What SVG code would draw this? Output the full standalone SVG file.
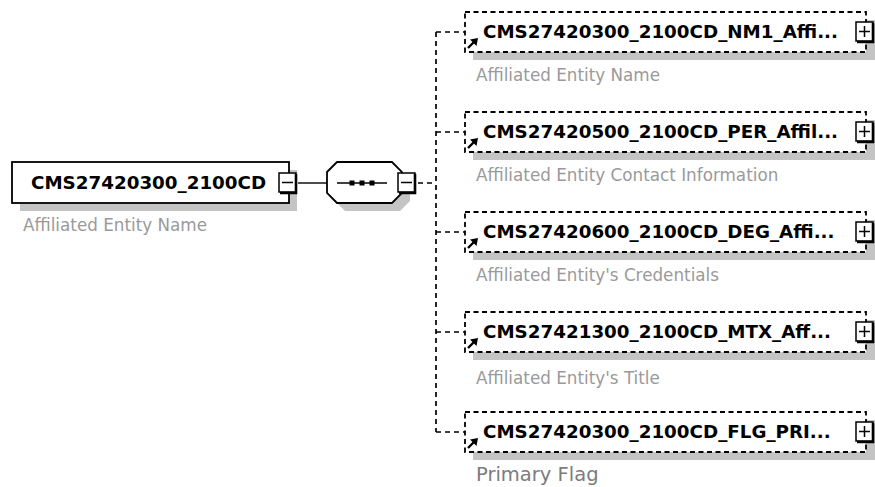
<svg xmlns="http://www.w3.org/2000/svg" width="875" height="487" viewBox="0 0 875 487">
<defs>
<style>
.shadow{fill:#c4c4c4}
.box{fill:#fff;stroke:#000;stroke-width:1.8}
.dbox{fill:#fff;stroke:#000;stroke-width:1.8;stroke-dasharray:5,3.5}
.title{font-family:"DejaVu Sans",Verdana,sans-serif;font-weight:bold;font-size:18.3px;fill:#000}
.lbl{font-family:"DejaVu Sans",Verdana,sans-serif;font-size:16.8px;fill:#9a9a9a}
.lbl2{font-family:"DejaVu Sans",Verdana,sans-serif;font-size:19.5px;fill:#7c7c7c}
.btn{fill:#fff;stroke:#000;stroke-width:1.5}
.btnsh{fill:none;stroke:#000;stroke-width:2.6}
.sign{stroke:#000;stroke-width:1.5;fill:none}
.conn{stroke:#000;stroke-width:1.4;fill:none}
.dconn{stroke:#000;stroke-width:1.7;fill:none;stroke-dasharray:5,4}
.arr{stroke:#000;stroke-width:2.4;fill:none}
</style>
<g id="plusbtn">
<rect class="btn" x="-9" y="-10" width="17" height="19"/>
<path class="btnsh" d="M8,-9 V10 H-8"/>
<path class="sign" d="M-6,-0.5 H5 M-0.5,-6 V5"/>
</g>
<g id="minusbtn">
<rect class="btn" x="-9" y="-10" width="17" height="19"/>
<path class="btnsh" d="M8,-9 V10 H-8"/>
<path class="sign" d="M-6,-0.5 H5"/>
</g>
<g id="refarrow">
<path class="arr" d="M0,9 L6,3"/>
<path d="M10,-1 L2,0.5 L8.5,7 Z" fill="#000"/>
</g>
</defs>

<g id="connectors">
<path class="conn" d="M298,183 H327"/>
<path class="dconn" d="M418,183 H436"/>
<path class="dconn" d="M436,32 V432"/>
<path class="dconn" d="M436,32 H465"/>
<path class="dconn" d="M436,132 H465"/>
<path class="dconn" d="M436,232 H465"/>
<path class="dconn" d="M436,332 H465"/>
<path class="dconn" d="M436,432 H465"/>
</g>

<g id="root">
<rect class="shadow" x="20" y="170" width="277" height="41"/>
<rect class="box" x="12" y="162" width="277" height="41"/>
<text class="title" x="31" y="189">CMS27420300_2100CD</text>
<use href="#minusbtn" x="288" y="183"/>
<text class="lbl" x="23" y="231">Affiliated Entity Name</text>
</g>

<g id="sequence">
<polygon class="shadow" points="335,180 345,170 400,170 410,180 410,201 400,211 345,211 335,201"/>
<polygon class="box" points="327,172 337,162 392,162 402,172 402,193 392,203 337,203 327,193"/>
<path class="conn" d="M337,183 H387"/>
<rect x="349.5" y="180.5" width="5" height="5" fill="#000"/>
<rect x="359.5" y="180.5" width="5" height="5" fill="#000"/>
<rect x="369.5" y="180.5" width="5" height="5" fill="#000"/>
<use href="#minusbtn" x="407" y="183"/>
</g>

<g id="child1">
<rect class="shadow" x="473" y="20" width="402" height="40"/>
<rect class="dbox" x="465" y="12" width="401" height="40"/>
<text class="title" x="483" y="38">CMS27420300_2100CD_NM1_Affi...</text>
<use href="#refarrow" x="468" y="39"/>
<use href="#plusbtn" x="865" y="32"/>
<text class="lbl" x="476" y="81">Affiliated Entity Name</text>
</g>

<g id="child2">
<rect class="shadow" x="473" y="120" width="402" height="40"/>
<rect class="dbox" x="465" y="112" width="401" height="40"/>
<text class="title" x="483" y="138">CMS27420500_2100CD_PER_Affil...</text>
<use href="#refarrow" x="468" y="139"/>
<use href="#plusbtn" x="865" y="132"/>
<text class="lbl" x="476" y="181">Affiliated Entity Contact Information</text>
</g>

<g id="child3">
<rect class="shadow" x="473" y="220" width="402" height="40"/>
<rect class="dbox" x="465" y="212" width="401" height="40"/>
<text class="title" x="483" y="238">CMS27420600_2100CD_DEG_Affi...</text>
<use href="#refarrow" x="468" y="239"/>
<use href="#plusbtn" x="865" y="232"/>
<text class="lbl" x="476" y="281">Affiliated Entity's Credentials</text>
</g>

<g id="child4">
<rect class="shadow" x="473" y="320" width="402" height="40"/>
<rect class="dbox" x="465" y="312" width="401" height="40"/>
<text class="title" x="483" y="338">CMS27421300_2100CD_MTX_Aff...</text>
<use href="#refarrow" x="468" y="339"/>
<use href="#plusbtn" x="865" y="332"/>
<text class="lbl" x="476" y="384">Affiliated Entity's Title</text>
</g>

<g id="child5">
<rect class="shadow" x="473" y="420" width="402" height="40"/>
<rect class="dbox" x="465" y="412" width="401" height="40"/>
<text class="title" x="483" y="438">CMS27420300_2100CD_FLG_PRI...</text>
<use href="#refarrow" x="468" y="439"/>
<use href="#plusbtn" x="865" y="432"/>
<text class="lbl2" x="476" y="481">Primary Flag</text>
</g>
</svg>
